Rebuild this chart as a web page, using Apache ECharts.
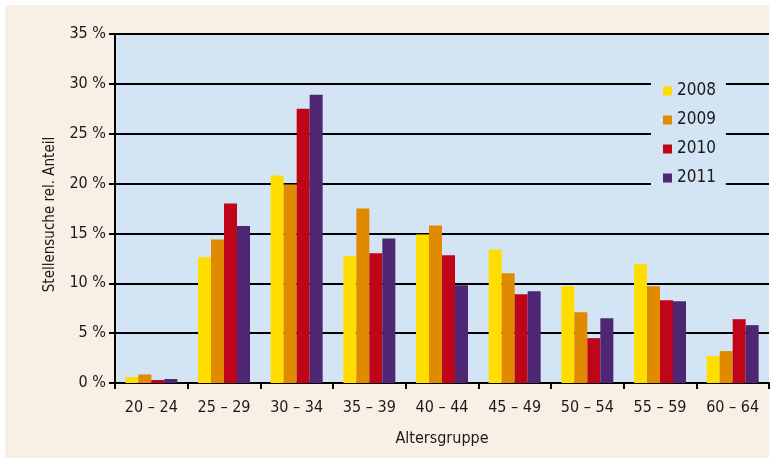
<!DOCTYPE html>
<html><head><meta charset="utf-8">
<script src="https://cdn.jsdelivr.net/npm/echarts@6/dist/echarts.min.js"></script>
<style>html,body{margin:0;padding:0;background:#fff}#c{width:774px;height:470px}</style>
</head><body><div id="c"></div>
<script>
const categories = ['20 – 24','25 – 29','30 – 34','35 – 39','40 – 44','45 – 49','50 – 54','55 – 59','60 – 64'];
const seriesNames = ['2008','2009','2010','2011'];
const v2008 = [0.6, 12.6, 20.8, 12.7, 14.9, 13.4, 9.7, 11.9, 2.7];
const v2009 = [0.85, 14.4, 19.9, 17.5, 15.8, 11.0, 7.1, 9.7, 3.2];
const v2010 = [0.3, 18.0, 27.5, 13.0, 12.8, 8.9, 4.5, 8.3, 6.4];
const v2011 = [0.4, 15.75, 28.9, 14.5, 9.8, 9.2, 6.5, 8.2, 5.8];
const yTicks = [0, 5, 10, 15, 20, 25, 30, 35];

const colors = ['#FFDD00','#E08A00','#BE0519','#4E2673'];
const font = '"Liberation Sans Narrow","DejaVu Sans Condensed","Roboto",sans-serif';
const values = [v2008, v2009, v2010, v2011];

const chart = echarts.init(document.getElementById('c'));
chart.setOption({
  animation: false,
  color: colors,
  graphic: [{type:'rect', z:-10, shape:{x:5,y:5,width:764,height:453}, style:{fill:'#F8EFE5'}}],
  grid: {left:115, top:34, right:5, bottom:87, show:true, backgroundColor:'#D3E4F4', borderWidth:0},
  legend: {
    orient:'vertical', left:651, top:73, data: seriesNames,
    backgroundColor:'#D3E4F4', padding:[9,10,9,12],
    itemWidth:9, itemHeight:9, itemGap:11,
    icon:'rect',
    textStyle:{fontFamily:font, fontSize:17, color:'#1a1a1a', lineHeight:18}
  },
  xAxis: {
    type:'category', data: categories,
    name:'Altersgruppe', nameLocation:'middle', nameGap:48,
    nameTextStyle:{fontFamily:font, fontSize:16, color:'#1a1a1a'},
    axisLine:{lineStyle:{color:'#000', width:2}},
    axisTick:{show:true, length:6, lineStyle:{color:'#000', width:2}},
    axisLabel:{fontFamily:font, fontSize:16, color:'#1a1a1a', margin:17}
  },
  yAxis: {
    type:'value', min:0, max:35, interval:5,
    name:'Stellensuche rel. Anteil', nameLocation:'middle', nameGap:57,
    nameTextStyle:{fontFamily:font, fontSize:15, color:'#1a1a1a', padding:[0,0,0,-12]},
    axisLine:{show:true, lineStyle:{color:'#000', width:2}},
    axisTick:{show:true, length:6, lineStyle:{color:'#000', width:2}},
    axisLabel:{fontFamily:font, fontSize:16, color:'#1a1a1a', margin:9,
      formatter: v => yTicks.includes(v) ? v + ' %' : ''},
    splitLine:{show:true, lineStyle:{color:'#000', width:2}}
  },
  series: seriesNames.map((n,i) => ({
    name:n, type:'bar', data: values[i],
    barWidth:13, barGap:'0%',
    itemStyle:{color:colors[i]}
  }))
});
</script></body></html>
